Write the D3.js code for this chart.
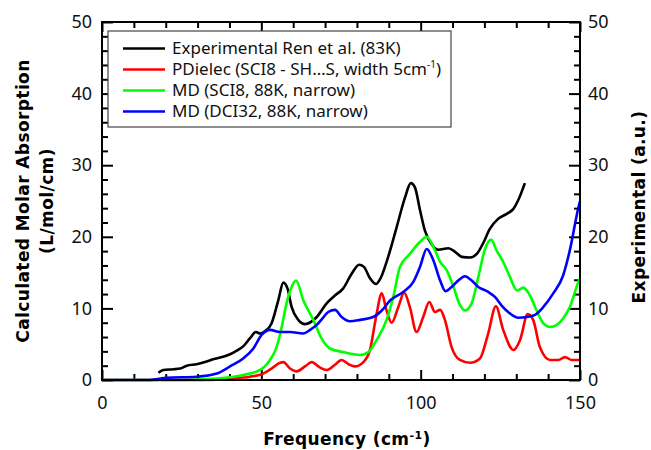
<!DOCTYPE html>
<html>
<head>
<meta charset="utf-8">
<script src="https://cdn.jsdelivr.net/npm/d3@7"></script>
<style>
  body { margin: 0; background: #fff; }
  .tick text { font-family: "Noto Sans", sans-serif; font-size: 18px; fill: #111; }
  .title { font-family: "DejaVu Sans", sans-serif; font-weight: bold; font-size: 17px; letter-spacing: 0.4px; fill: #000; }
  .legend text { font-family: "Noto Sans", sans-serif; font-size: 17px; fill: #111; }
</style>
</head>
<body>
<div id="chart"></div>
<script>
// values: [frequency cm-1, value]
const experimental = [
  [17.7,1.0],[19.2,1.4],[22.4,1.5],[24.5,1.6],[26.6,2.0],[29.7,2.2],[32.3,2.5],[34.9,2.9],
  [37.6,3.2],[40.2,3.6],[42.3,4.1],[44.3,4.7],[46.4,5.8],[48.3,6.7],[49.6,6.5],[51.1,6.8],
  [53.2,7.9],[55.3,11.1],[56.9,13.6],[58.2,12.8],[59.5,10.2],[61.6,8.4],[63.7,7.8],[67.4,8.8],
  [70.5,10.7],[73.1,11.8],[75.7,12.8],[78.3,14.8],[80.7,16.1],[82.2,15.8],[84.1,14.2],[86.0,13.4],
  [87.4,14.2],[89.8,17.2],[92.5,21.4],[95.1,25.5],[96.9,27.5],[98.2,26.9],[99.8,23.7],[101.3,20.9],
  [103.4,19.0],[105.5,18.2],[108.7,18.4],[110.8,17.9],[112.9,17.2],[115.5,17.1],[117.6,17.6],
  [119.6,19.1],[121.7,21.1],[124.3,22.5],[127.0,23.2],[129.1,23.9],[130.6,25.1],[132.7,27.5]
]
const pdielec = [
  [0,0],[30,0],[36,0.05],[40.2,0.2],[46.4,0.45],[50.6,0.9],[53.2,1.6],[55.9,2.4],[56.9,2.5],
  [59.0,1.6],[61.1,1.2],[63.7,1.9],[65.8,2.5],[68.2,1.8],[70.5,1.4],[73.0,2.1],[75.2,2.8],
  [77.4,2.2],[79.4,1.9],[82.0,2.5],[84.1,4.2],[86.0,8.8],[87.8,12.1],[89.3,9.7],[90.9,8.0],
  [93.0,10.2],[94.8,12.2],[96.6,10.2],[98.7,6.7],[100.8,8.8],[102.7,10.9],[104.5,9.5],[106.1,9.8],
  [107.6,8.4],[109.7,4.6],[112.3,2.8],[115.5,2.4],[118.6,3.0],[121.2,6.5],[123.6,10.3],[125.9,7.0],
  [129.1,4.2],[131.2,5.6],[133.6,9.2],[135.3,8.4],[137.4,4.6],[140.6,2.8],[143.2,2.8],[145.3,3.2],
  [147.4,2.8],[150,2.8]
]
const mdSci8 = [
  [0,0],[25,0],[36,0.2],[44.3,0.7],[49.6,1.4],[52.7,2.8],[54.8,4.6],[56.4,7.4],[57.9,10.7],
  [59.5,13.0],[60.9,13.9],[63.2,11.1],[66.3,8.4],[68.9,5.8],[71.5,4.4],[75.7,3.9],[81.0,3.5],
  [83.6,3.9],[86.2,5.6],[89.3,8.4],[91.4,11.6],[93.5,15.8],[96.6,17.6],[99.8,19.3],[101.9,20.0],
  [104.0,18.6],[106.1,16.5],[108.2,15.3],[110.3,13.0],[112.1,10.7],[113.9,9.7],[116.0,10.7],
  [118.1,14.4],[120.2,18.3],[122.1,19.6],[123.8,18.1],[125.9,16.5],[128.0,14.4],[130.3,12.5],
  [132.2,12.9],[134.3,11.8],[136.4,9.7],[138.5,7.9],[140.6,7.4],[142.7,7.7],[144.7,8.6],
  [146.8,10.2],[149.5,13.7],[150,14.2]
]
const mdDci32 = [
  [0,0],[15,0],[20.3,0.3],[29.7,0.45],[36,0.9],[40.2,1.9],[44.3,3.0],[47.5,4.4],[50.1,6.3],
  [52.7,7.0],[55.9,6.7],[59.0,6.7],[63.2,6.5],[65.3,7.0],[67.4,7.7],[69.2,8.6],[71.0,9.5],
  [73.1,9.8],[75.2,8.8],[77.8,8.2],[81.0,8.4],[85.1,8.8],[87.8,9.7],[90.4,11.1],[94.5,12.3],
  [97.7,13.7],[99.8,15.8],[101.9,18.3],[104.0,16.7],[106.1,13.9],[107.8,12.4],[109.7,13.0],
  [111.8,13.9],[113.9,14.5],[116.0,13.9],[118.1,13.0],[121.2,12.3],[123.3,11.6],[125.4,10.4],
  [128.0,9.3],[130.6,8.7],[133.3,8.8],[135.9,9.1],[138.5,10.2],[141.6,12.1],[144.7,14.6],
  [146.8,18.1],[149.5,24.1],[150,25.0]
]

const seriesNames = ["Experimental Ren et al. (83K)", "PDielec (SCI8 - SH…S, width 5cm", "MD (SCI8, 88K, narrow)", "MD (DCI32, 88K, narrow)"]
const seriesColors = ["#000000", "#ff0000", "#00ff00", "#0000ff"]
const seriesData = [experimental, pdielec, mdSci8, mdDci32]

const xMajor = [0, 50, 100, 150]
const xMinor = [10, 20, 30, 40, 60, 70, 80, 90, 110, 120, 130, 140]
const yMajor = [0, 10, 20, 30, 40, 50]
const yMinor = [2, 4, 6, 8, 12, 14, 16, 18, 22, 24, 26, 28, 32, 34, 36, 38, 42, 44, 46, 48]

const W = 651, H = 450
const margin = {top: 22, right: 71, bottom: 70, left: 102}
const width = W - margin.left - margin.right,
  height = H - margin.top - margin.bottom

const svg = d3.select("#chart").append("svg")
  .attr("width", W).attr("height", H)
const g = svg.append("g")
  .attr("transform", `translate(${margin.left},${margin.top})`)

const x = d3.scaleLinear().domain([0, 150]).range([0, width])
const y = d3.scaleLinear().domain([0, 50]).range([height, 0])

// axes with ticks pointing inward
function addAxis(axisFn, scale, values, size, pad, transform, labels) {
  const a = g.append("g")
    .attr("transform", transform)
    .call(axisFn(scale).tickValues(values).tickSize(-size).tickPadding(pad)
      .tickFormat(labels ? d3.format("d") : ""))
  a.select(".domain").remove()
  a.selectAll("line").attr("stroke", "#000").attr("stroke-width", 2)
  return a
}
addAxis(d3.axisBottom, x, xMajor, 10, 16, `translate(0,${height})`, true)
addAxis(d3.axisBottom, x, xMinor, 6, 0, `translate(0,${height})`, false)
addAxis(d3.axisTop, x, xMajor, 10, 0, "translate(0,0)", false)
addAxis(d3.axisTop, x, xMinor, 6, 0, "translate(0,0)", false)
addAxis(d3.axisLeft, y, yMajor, 11, 10, "translate(0,0)", true)
addAxis(d3.axisLeft, y, yMinor, 6, 0, "translate(0,0)", false)
addAxis(d3.axisRight, y, yMajor, 11, 8, `translate(${width},0)`, true)
addAxis(d3.axisRight, y, yMinor, 6, 0, `translate(${width},0)`, false)

g.selectAll(".tick text").attr("fill", "#111")

// curves
const line = d3.line()
  .x(d => x(d[0]))
  .y(d => y(d[1]))
  .curve(d3.curveMonotoneX)

g.selectAll(".series")
  .data(seriesData)
  .enter()
  .append("path")
    .attr("class", "series")
    .attr("d", d => line(d))
    .attr("fill", "none")
    .attr("stroke", (d, i) => seriesColors[i])
    .attr("stroke-width", 2.6)
    .attr("stroke-linejoin", "round")

// frame
g.append("rect")
  .attr("width", width).attr("height", height)
  .attr("fill", "none").attr("stroke", "#000").attr("stroke-width", 2)

// legend
const leg = g.append("g").attr("class", "legend").attr("transform", "translate(6,9)")
leg.append("rect")
  .attr("width", 343).attr("height", 96)
  .attr("fill", "#fff").attr("stroke", "#444").attr("stroke-width", 1.2)
seriesNames.forEach((name, i) => {
  const ly = 17.5 + i * 21
  leg.append("line")
    .attr("x1", 15).attr("x2", 57).attr("y1", ly).attr("y2", ly)
    .attr("stroke", seriesColors[i]).attr("stroke-width", 2.6)
  const t = leg.append("text").attr("x", 64).attr("y", ly).attr("dy", "0.35em").text(name)
  if (i === 1) {
    t.append("tspan").attr("baseline-shift", "super").attr("font-size", "10px").text("-1")
    t.append("tspan").text(")")
  }
})

// titles
svg.append("text").attr("class", "title")
  .attr("transform", `translate(23,${margin.top + height / 2}) rotate(-90)`)
  .attr("text-anchor", "middle").attr("dy", "0.35em")
  .text("Calculated Molar Absorption")
svg.append("text").attr("class", "title")
  .attr("transform", `translate(47,${margin.top + height / 2}) rotate(-90)`)
  .attr("text-anchor", "middle").attr("dy", "0.35em")
  .text("(L/mol/cm)")
svg.append("text").attr("class", "title")
  .attr("transform", `translate(639,${margin.top + height / 2 + 6}) rotate(-90)`)
  .attr("text-anchor", "middle").attr("dy", "0.35em")
  .text("Experimental (a.u.)")
const xt = svg.append("text").attr("class", "title")
  .attr("x", margin.left + width / 2 + 6).attr("y", 445)
  .attr("text-anchor", "middle")
  .text("Frequency (cm")
xt.append("tspan").attr("baseline-shift", "super").attr("font-size", "11px").text("-1")
xt.append("tspan").text(")")
</script>
</body>
</html>
